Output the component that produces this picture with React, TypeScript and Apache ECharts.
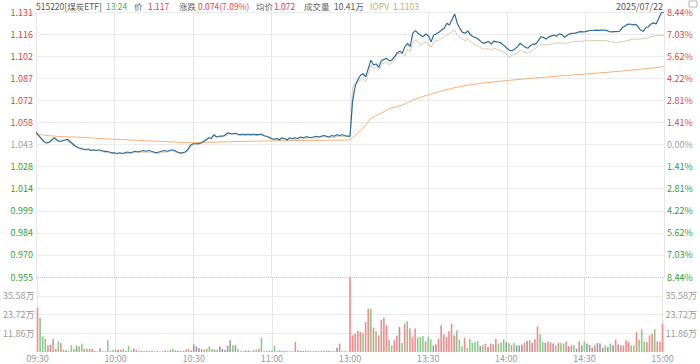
import React, { useEffect, useRef } from "react";
import * as echarts from "echarts";

const PREV_CLOSE = 1.043;
const STEP = 0.088 / 6;

const priceTickLabels = ["0.955", "0.970", "0.984", "0.999", "1.014", "1.028", "1.043", "1.058", "1.072", "1.087", "1.102", "1.116", "1.131"];
const pctTickLabels = ["8.44%", "7.03%", "5.62%", "4.22%", "2.81%", "1.41%", "0.00%", "1.41%", "2.81%", "4.22%", "5.62%", "7.03%", "8.44%"];
const timeTickLabels = ["09:30", "10:00", "10:30", "11:00", "13:00", "13:30", "14:00", "14:30", "15:00"];
const VOL_INTERVAL = 11.86;
const VOL_MAX = 47.44;

const priceMorning = [
  1.051, 1.049, 1.047, 1.045, 1.044, 1.0445, 1.046, 1.0475, 1.046, 1.045,
  1.0455, 1.046, 1.0465, 1.045, 1.0435, 1.042, 1.041, 1.0405, 1.04, 1.0395,
  1.04, 1.039, 1.0395, 1.039, 1.0395, 1.039, 1.0385, 1.0385, 1.038, 1.0375,
  1.0375, 1.037, 1.0375, 1.037, 1.0375, 1.038, 1.0375, 1.038, 1.0385, 1.038,
  1.0385, 1.039, 1.0385, 1.039, 1.0385, 1.038, 1.0375, 1.038, 1.0385, 1.039,
  1.0385, 1.039, 1.0395, 1.039, 1.038, 1.0375, 1.0375, 1.038, 1.0395, 1.0425,
  1.0435, 1.0435, 1.0435, 1.044, 1.045, 1.046, 1.0475, 1.047, 1.0495, 1.048,
  1.0485, 1.0485, 1.049, 1.0505, 1.0505, 1.05, 1.0505, 1.05, 1.0495, 1.05,
  1.0495, 1.05, 1.0495, 1.05, 1.0495, 1.0495, 1.05, 1.049, 1.0485, 1.048,
  1.047, 1.0465, 1.047, 1.046, 1.0475, 1.047, 1.046, 1.0475, 1.047, 1.0475,
  1.047, 1.048, 1.0475, 1.048, 1.048, 1.0475, 1.048, 1.0485, 1.048, 1.0485,
  1.049, 1.0485, 1.048, 1.049, 1.0485, 1.0495, 1.049, 1.0495, 1.049, 1.0485,
  1.0485,
];
const priceAfternoon = [
  1.072, 1.082, 1.0858, 1.089, 1.09, 1.088, 1.0936, 1.099, 1.0958, 1.0965,
  1.0943, 1.0987, 1.0995, 1.1002, 1.0985, 1.099, 1.1013, 1.104, 1.105, 1.1036,
  1.108, 1.1102, 1.108, 1.117, 1.1186, 1.1169, 1.1155, 1.1146, 1.1164, 1.115,
  1.1113, 1.1157, 1.1165, 1.1175, 1.119, 1.1202, 1.1235, 1.1224, 1.126, 1.1297,
  1.1235, 1.12, 1.1175, 1.1169, 1.1184, 1.116, 1.1146, 1.114, 1.1129, 1.1115,
  1.1102, 1.1108, 1.1113, 1.1097, 1.1117, 1.1112, 1.111, 1.11, 1.1085, 1.1069,
  1.1055, 1.1053, 1.1065, 1.108, 1.1102, 1.109, 1.1075, 1.1069, 1.1088, 1.1097,
  1.1097, 1.112, 1.1146, 1.114, 1.1131, 1.1145, 1.1151, 1.1157, 1.115, 1.1165,
  1.116, 1.1142, 1.1155, 1.1165, 1.1168, 1.117, 1.1175, 1.118, 1.1178, 1.118,
  1.1185, 1.1187, 1.1187, 1.119, 1.1188, 1.119, 1.119, 1.1188, 1.118, 1.1178,
  1.118, 1.118, 1.1182, 1.1205, 1.1215, 1.1228, 1.123, 1.1225, 1.1228, 1.1215,
  1.119, 1.1182, 1.1205, 1.1212, 1.123, 1.1238, 1.123, 1.1268, 1.1305, 1.131,
];

const avgPoints: [number, number][] = [
  [0, 1.05], [5, 1.0488], [10, 1.0482], [17, 1.0478], [23, 1.0471], [36, 1.046],
  [49, 1.0449], [59, 1.0442], [68, 1.0445], [80, 1.0451], [93, 1.0455], [110, 1.0458],
  [120, 1.046], [121, 1.0475], [123, 1.0505], [125, 1.0537], [128, 1.0604], [133, 1.0648],
  [135, 1.0668], [140, 1.0692], [144, 1.0725], [149, 1.0755], [154, 1.078], [158, 1.08],
  [165, 1.0825], [172, 1.084], [180, 1.0855], [190, 1.087], [200, 1.0885], [210, 1.0898],
  [220, 1.0912], [230, 1.0928], [240, 1.0947],
];

const iopvPoints: [number, number][] = [
  [0, 1.0502], [2, 1.0465], [4, 1.0436], [6, 1.0452], [8, 1.0455], [10, 1.0449], [12, 1.0458],
  [14, 1.0428], [16, 1.0404], [18, 1.0395], [20, 1.0394], [22, 1.0389], [24, 1.0389], [26, 1.0379],
  [28, 1.0374], [30, 1.0369], [32, 1.0369], [34, 1.0369], [36, 1.0369], [38, 1.0379], [40, 1.0379],
  [42, 1.0379], [44, 1.0379], [46, 1.0369], [48, 1.0379], [50, 1.0379], [52, 1.0389], [54, 1.0374],
  [56, 1.0369], [58, 1.0389], [60, 1.0429], [62, 1.0429], [64, 1.0444], [66, 1.0469], [68, 1.0487],
  [70, 1.0479], [72, 1.0484], [74, 1.0499], [76, 1.0499], [78, 1.0489], [80, 1.0489], [82, 1.0489],
  [84, 1.0489], [86, 1.0494], [88, 1.0479], [90, 1.0464], [92, 1.0464], [94, 1.0469], [96, 1.0454],
  [98, 1.0464], [100, 1.0464], [102, 1.0469], [104, 1.0474], [106, 1.0474], [108, 1.0474],
  [110, 1.0484], [112, 1.0474], [114, 1.0479], [116, 1.0484], [118, 1.0484], [120, 1.0479],
  [121, 1.081], [122, 1.084], [124, 1.0858], [125, 1.0869], [126, 1.0847], [127, 1.0903],
  [128, 1.0958], [129, 1.093], [130, 1.0947], [131, 1.0925], [132, 1.0965], [134, 1.098],
  [135, 1.0958], [137, 1.0991], [138, 1.1031], [140, 1.104], [141, 1.1018], [142, 1.1062],
  [143, 1.1046], [144, 1.1103], [145, 1.1124], [146, 1.1113], [147, 1.1091], [149, 1.1113],
  [151, 1.1076], [152, 1.1113], [154, 1.1124], [156, 1.1146], [158, 1.1169], [160, 1.119],
  [161, 1.1157], [163, 1.1129], [164, 1.112], [165, 1.1129], [167, 1.1102], [169, 1.1084],
  [171, 1.1062], [173, 1.1069], [174, 1.1058], [175, 1.1069], [177, 1.1058], [179, 1.104],
  [180, 1.1024], [181, 1.1009], [182, 1.1024], [184, 1.104], [185, 1.1058], [186, 1.1047],
  [188, 1.1036], [190, 1.1058], [193, 1.1097], [195, 1.1091], [198, 1.1102], [200, 1.1105],
  [203, 1.1102], [205, 1.1113], [212, 1.112], [218, 1.112], [221, 1.1109], [223, 1.1109],
  [226, 1.112], [228, 1.1129], [231, 1.1131], [233, 1.1135], [236, 1.1151], [238, 1.1155],
  [240, 1.1155],
];

// volume in 万 shares; direction: r = up, g = down, n = flat
const volumeMorning = [
  28.0, 21.7, 9.9, 8.4, 4.2, 4.6, 8.2, 2.1, 6.7, 5.7,
  1.5, 1.1, 0.6, 4.2, 1.9, 4.0, 3.6, 5.3, 2.1, 2.1,
  1.9, 2.1, 0.6, 0.4, 2.3, 0.6, 0.4, 7.4, 0.5, 1.5,
  1.5, 1.5, 1.5, 1.9, 0.6, 4.0, 0.6, 2.1, 1.5, 0.6,
  0.6, 0.5, 0.8, 0.5, 0.6, 0.4, 0.5, 0.3, 0.6, 1.1,
  0.5, 1.5, 2.1, 1.0, 0.8, 0.5, 0.6, 1.5, 2.1, 0.8,
  4.8, 3.6, 2.5, 1.9, 1.5, 2.1, 3.6, 1.9, 1.5, 1.5,
  3.6, 2.1, 1.2, 4.0, 7.4, 4.2, 4.2, 2.1, 0.5, 0.5,
  0.8, 1.0, 0.5, 1.1, 1.5, 2.1, 9.1, 0.5, 0.5, 1.0,
  1.0, 3.8, 0.5, 1.0, 0.8, 0.6, 0.5, 0.5, 0.4, 6.3,
  1.0, 0.8, 0.6, 1.0, 0.6, 0.4, 0.5, 0.6, 0.4, 0.6,
  0.8, 1.0, 0.8, 0.6, 0.5, 2.7, 5.3, 0.5, 0.4, 0.3,
  47.4,
];
const volumeAfternoon = [
  10.5, 11.6, 13.3, 12.6, 12.2, 19.0, 27.4, 27.4, 15.4, 13.1,
  10.5, 20.4, 21.7, 16.9, 7.8, 4.2, 7.4, 10.5, 15.8, 5.7,
  17.9, 19.4, 14.8, 9.5, 14.8, 9.1, 9.5, 9.9, 6.7, 9.5,
  8.0, 4.2, 4.8, 8.4, 16.9, 11.2, 9.5, 13.1, 17.9, 10.5,
  13.7, 7.8, 3.6, 8.9, 2.7, 8.4, 5.7, 6.3, 7.0, 3.8,
  4.2, 5.3, 3.2, 5.3, 4.8, 8.4, 5.3, 5.9, 8.0, 6.3,
  5.7, 4.2, 5.7, 4.2, 4.2, 4.8, 5.9, 7.0, 7.4, 5.7,
  8.0, 16.2, 11.2, 6.3, 5.7, 6.7, 6.1, 5.3, 4.2, 5.7,
  5.7, 5.3, 6.7, 3.6, 4.2, 4.2, 2.1, 6.7, 4.2, 6.7,
  5.3, 4.6, 2.7, 4.2, 5.7, 5.3, 2.7, 4.2, 3.2, 5.3,
  4.2, 7.8, 4.8, 4.2, 4.2, 7.4, 6.3, 4.2, 4.2, 12.6,
  7.8, 14.3, 6.7, 6.3, 10.5, 11.6, 14.3, 6.7, 6.7, 17.9,
];
const volumeDirs = [
  "rgggrnrrgr", "gnrggnggrg", "rrnrngrgng", "rnrgngnnrn", "nngnnnnngr", "nggnnnnrrn",
  "nnnrrgggng", "nnnnngngnr", "nnnrgrgnng", "ggnrrnrrnr", "nnngnnnrnn", "rgngnnrnnn", "r",
  "rrrrgrrgrg", "rrrrggrrng", "rgrrrgggrg", "gnnrrrrrrr", "gggrgggggn", "grnrrrgggn",
  "grgnnnrnrn", "rrggnrrngr", "ggrnrgnrng", "nnnrnnngng", "nrnrrrrggr", "gggrrrgrrr",
].join("");

const header = {
  name: "515220[煤炭ETF]",
  time: "13:24",
  price: "1.117",
  change: "0.074(7.09%)",
  avg: "1.072",
  volume: "10.41万",
  iopv: "1.1103",
  date: "2025/07/22",
};

const RED = "#e8403f";
const GREEN = "#2f9e36";
const GRAY = "#a0a0a0";
const FONT = '"Microsoft YaHei", "Noto Sans CJK SC", "Noto Sans", sans-serif';
const HEADER_FONT = `8.5px ${FONT}`;

function buildCategories(): string[] {
  const out: string[] = [];
  for (let i = 0; i <= 240; i++) {
    const base = i <= 120 ? 9 * 60 + 30 + i : 13 * 60 + (i - 120);
    const h = Math.floor(base / 60);
    const m = base % 60;
    out.push(`${String(h).padStart(2, "0")}:${String(m).padStart(2, "0")}`);
  }
  return out;
}

const norm = (p: number) => (p - PREV_CLOSE) / STEP;

export default function App() {
  const ref = useRef<HTMLDivElement>(null);
  useEffect(() => {
    if (!ref.current) return;
    const chart = echarts.init(ref.current, undefined, { renderer: "svg" });
    const categories = buildCategories();
    const prices = [...priceMorning, ...priceAfternoon];
    const volumes = [...volumeMorning, ...volumeAfternoon];
    const dirColor = (d: string) => (d === "r" ? "#f48a8c" : d === "g" ? "#8acb8a" : "#9d9d9d");
    const labelColor = (v: any) => {
      const k = Math.round(Number(v));
      return k > 0 ? RED : k < 0 ? GREEN : GRAY;
    };
    const splitColors = priceTickLabels.map((_, i) => (i === 0 ? "rgba(0,0,0,0)" : "#ebebeb"));
    const volSplitColors = ["rgba(0,0,0,0)", "#ebebeb", "#ebebeb", "#ebebeb", "rgba(0,0,0,0)"];

    const headerItems: { text: string; x: number; color: string }[] = [
      { text: header.name, x: 36, color: "#555" },
      { text: header.time, x: 106, color: "#3cb043" },
      { text: "价", x: 134, color: "#666" },
      { text: header.price, x: 148, color: RED },
      { text: "涨跌", x: 179, color: "#666" },
      { text: header.change, x: 198, color: RED },
      { text: "均价", x: 256, color: "#666" },
      { text: header.avg, x: 274, color: RED },
      { text: "成交量", x: 304, color: "#666" },
      { text: header.volume, x: 334, color: "#555" },
      { text: "IOPV", x: 370, color: "#c8a878" },
      { text: header.iopv, x: 393, color: "#c8a878" },
    ];

    chart.setOption({
      animation: false,
      textStyle: { fontFamily: FONT },
      grid: [
        { left: 36, right: 36, top: 12, height: 265 },
        { left: 36, right: 36, top: 277, height: 75 },
      ],
      xAxis: [
        {
          gridIndex: 0,
          type: "category",
          data: categories,
          boundaryGap: false,
          axisLine: { show: false },
          axisTick: { show: false },
          axisLabel: { show: false },
          splitLine: { show: true, interval: (i: number) => i % 30 === 0, lineStyle: { color: "#e6e6e6", width: 1 } },
        },
        {
          gridIndex: 1,
          type: "category",
          data: categories,
          boundaryGap: false,
          axisLine: { show: false },
          axisTick: { show: false },
          axisLabel: {
            show: true,
            interval: (i: number) => i % 30 === 0,
            formatter: (_v: string, i: number) => timeTickLabels[Math.round(i / 30)] ?? "",
            color: "#999",
            fontSize: 9,
            lineHeight: 10,
            margin: 1,
            fontFamily: FONT,
          },
          splitLine: { show: true, interval: (i: number) => i % 30 === 0, lineStyle: { color: "#e6e6e6", width: 1 } },
        },
      ],
      yAxis: [
        {
          gridIndex: 0,
          type: "value",
          position: "left",
          min: -6,
          max: 6,
          interval: 1,
          axisLine: { show: false },
          axisTick: { show: false },
          axisLabel: {
            formatter: (v: number) => priceTickLabels[Math.round(v) + 6] ?? "",
            color: labelColor,
            fontSize: 9,
            margin: 3,
            fontFamily: FONT,
            showMinLabel: true,
            showMaxLabel: true,
          },
          splitLine: { show: true, lineStyle: { color: splitColors, width: 1 } },
        },
        {
          gridIndex: 0,
          type: "value",
          position: "right",
          min: -6,
          max: 6,
          interval: 1,
          axisLine: { show: false },
          axisTick: { show: false },
          axisLabel: {
            formatter: (v: number) => pctTickLabels[Math.round(v) + 6] ?? "",
            color: labelColor,
            fontSize: 9,
            margin: 3,
            fontFamily: FONT,
            showMinLabel: true,
            showMaxLabel: true,
          },
          splitLine: { show: false },
        },
        {
          gridIndex: 1,
          type: "value",
          position: "left",
          min: 0,
          max: VOL_MAX,
          interval: VOL_INTERVAL,
          axisLine: { show: false },
          axisTick: { show: false },
          axisLabel: {
            formatter: (v: number) => (v <= 0 || v >= VOL_MAX - 0.01 ? "" : v.toFixed(2) + "万"),
            color: "#999",
            fontSize: 9,
            margin: 3,
            fontFamily: FONT,
          },
          splitLine: { show: true, lineStyle: { color: volSplitColors, width: 1 } },
        },
        {
          gridIndex: 1,
          type: "value",
          position: "right",
          min: 0,
          max: VOL_MAX,
          interval: VOL_INTERVAL,
          axisLine: { show: false },
          axisTick: { show: false },
          axisLabel: {
            formatter: (v: number) => (v <= 0 || v >= VOL_MAX - 0.01 ? "" : v.toFixed(2) + "万"),
            color: "#999",
            fontSize: 9,
            margin: 3,
            fontFamily: FONT,
          },
          splitLine: { show: false },
        },
      ],
      series: [
        {
          name: "avg",
          type: "line",
          xAxisIndex: 0,
          yAxisIndex: 0,
          data: avgPoints.map(([i, p]) => [i, norm(p)]),
          symbol: "none",
          lineStyle: { color: "#f8b07c", width: 1 },
          z: 2,
          markLine: {
            silent: true,
            symbol: "none",
            label: { show: false },
            lineStyle: { type: "dotted", color: "#c4c4c4", width: 1 },
            data: [{ yAxis: -6 }],
          },
        },
        {
          name: "iopv",
          type: "line",
          xAxisIndex: 0,
          yAxisIndex: 0,
          data: iopvPoints.map(([i, p]) => [i, norm(p)]),
          symbol: "none",
          lineStyle: { color: "#dccab0", width: 1 },
          z: 3,
        },
        {
          name: "price",
          type: "line",
          xAxisIndex: 0,
          yAxisIndex: 0,
          data: prices.map((p) => norm(p)),
          symbol: "none",
          lineStyle: { color: "#2d6c9c", width: 1.2 },
          z: 4,
        },
        {
          name: "volume",
          type: "bar",
          xAxisIndex: 1,
          yAxisIndex: 2,
          barWidth: "62%",
          data: volumes.map((v, i) => ({ value: v, itemStyle: { color: dirColor(volumeDirs[i] || "n") } })),
        },
      ],
      graphic: [
        ...headerItems.map((h) => ({
          type: "text",
          x: h.x,
          y: 6,
          style: { text: h.text, fill: h.color, font: HEADER_FONT, textAlign: "left", textVerticalAlign: "middle" },
        })),
        {
          type: "text",
          x: 663,
          y: 6,
          style: { text: header.date, fill: "#555", font: `9px ${FONT}`, textAlign: "right", textVerticalAlign: "middle" },
        },
        {
          type: "rect",
          shape: { x: 689, y: 1, width: 8, height: 6 },
          style: { fill: "none", stroke: "#b5b5b5", lineWidth: 1 },
        },
      ],
    });
    return () => chart.dispose();
  }, []);
  return <div ref={ref} style={{ position: "absolute", left: 0, top: 0, width: 700, height: 364 }} />;
}
